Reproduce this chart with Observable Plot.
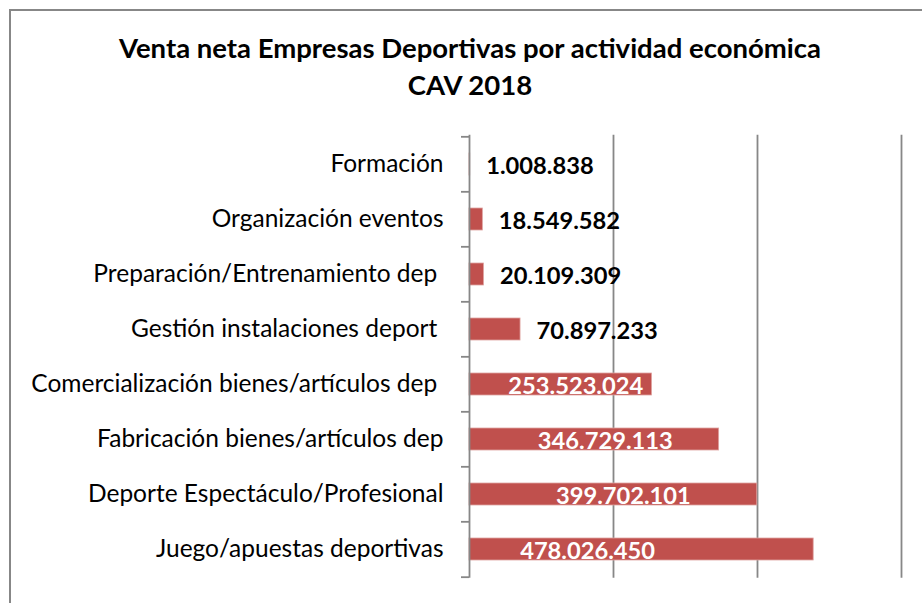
<!DOCTYPE html>
<html>
<head>
<meta charset="utf-8">
<script src="https://cdn.jsdelivr.net/npm/d3@7"></script>
<script src="https://cdn.jsdelivr.net/npm/@observablehq/plot@0.6"></script>
<style>
  html, body { margin: 0; padding: 0; background: #fff; }
  #wrap { position: relative; width: 922px; height: 603px; overflow: hidden; background: #fff; }
  #frame { position: absolute; left: 9px; top: 9px; width: 2000px; height: 2000px;
           border-left: 2px solid #878787; border-top: 2px solid #878787; box-sizing: border-box; }
  #title { position: relative; box-sizing: border-box; height: 120px; padding-top: 29px; padding-left: 18px;
           width: 922px; text-align: center; font-family: Lato, sans-serif; font-weight: bold;
           font-size: 27.5px; line-height: 37px; color: #000; }
  #chart { position: relative; }
  svg text { white-space: pre; }
</style>
</head>
<body>
<div id="wrap">
  <div id="frame"></div>
  <div id="title">Venta neta Empresas Deportivas por actividad económica<br>CAV 2018</div>
  <div id="chart"></div>
</div>
<script>
// Categories (top to bottom) and net sales (euros)
const categories = [
  "Formación",
  "Organización eventos",
  "Preparación/Entrenamiento dep ",
  "Gestión instalaciones deport ",
  "Comercialización bienes/artículos dep ",
  "Fabricación bienes/artículos dep",
  "Deporte Espectáculo/Profesional",
  "Juego/apuestas deportivas"
];
const values = [1008838, 18549582, 20109309, 70897233, 253523024, 346729113, 399702101, 478026450];
const gridValues = [200e6, 400e6, 600e6];
// horizontal nudges (px) of the in-bar value labels, as placed in the original
const labelNudge = [0, 0, 0, 0, 15, 11, 10, -54];

const data = categories.map((c, i) => ({cat: c, value: values[i], nudge: labelNudge[i]}));
const fmt = d3.formatLocale({decimal: ",", thousands: ".", grouping: [3], currency: ["", "€"]}).format(",d");

const W = 922, H = 483;
const mL = 469, mR = 21, mT = 14.7, mB = 25.3;
const xMax = 600e6;
const pxToData = xMax / (W - mL - mR);
const step = (H - mT - mB) / categories.length;
const gray = "#878787";

const inside = data.filter(d => d.value >= 100e6);
const outside = data.filter(d => d.value < 100e6);

const chart = Plot.plot({
  width: W, height: H,
  marginLeft: mL, marginRight: mR, marginTop: mT, marginBottom: mB,
  x: {domain: [0, xMax], axis: null},
  y: {domain: categories, paddingInner: 0.6, paddingOuter: 0.3, tickSize: 0, tickPadding: 26, label: null},
  style: {fontFamily: "Lato, sans-serif", fontSize: "24.5px", color: "#000", background: "transparent", overflow: "visible"},
  marks: [
    Plot.ruleX(gridValues, {stroke: gray, strokeWidth: 1.8}),
    Plot.barX(data, {x: "value", y: "cat", fill: "#C0504D", stroke: "#dfa3a1", strokeWidth: 0.8}),
    Plot.ruleX([0], {stroke: gray, strokeWidth: 1.8}),
    Plot.ruleY(categories, {y: d => d, x1: -8 * pxToData, x2: 0, dy: -step / 2, stroke: gray, strokeWidth: 1.8}),
    Plot.ruleY([categories[categories.length - 1]], {y: d => d, x1: -8 * pxToData, x2: 0, dy: step / 2, stroke: gray, strokeWidth: 1.8}),
    Plot.text(outside, {x: "value", y: "cat", text: d => fmt(d.value), textAnchor: "start", dx: 16, dy: 2,
      fill: "#000", fontWeight: "bold", fontSize: 23.7}),
    Plot.text(inside, {x: d => d.value / 2 + d.nudge * pxToData, y: "cat", text: d => fmt(d.value), textAnchor: "middle", dy: 2,
      fill: "#fff", fontWeight: "bold", fontSize: 23.7})
  ]
});
document.getElementById("chart").appendChild(chart);
</script>
</body>
</html>
